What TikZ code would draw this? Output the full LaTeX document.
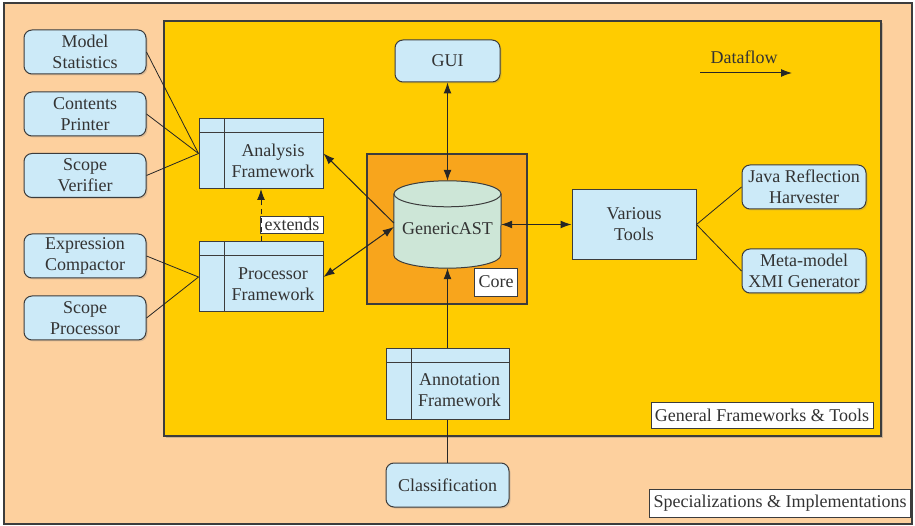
\documentclass[tikz,border=0pt]{standalone}
\usepackage{fontspec}
\setmainfont{Liberation Serif}
\usetikzlibrary{arrows.meta,shadows}

\definecolor{peach}{RGB}{253,208,158}
\definecolor{gold}{RGB}{255,204,0}
\definecolor{coreorange}{RGB}{248,165,28}
\definecolor{boxblue}{RGB}{204,234,248}
\definecolor{astgreen}{RGB}{205,230,215}
\definecolor{edge}{RGB}{60,60,60}

\tikzset{
  every node/.style={font=\fontsize{18}{21}\selectfont, text=black!80},
  tool/.style={draw=edge, fill=boxblue, rounded corners=8pt, line width=1pt,
    minimum width=122pt, minimum height=44pt, align=center, inner sep=1pt,
    drop shadow={shadow xshift=1.5pt, shadow yshift=-1.5pt, opacity=0.25}},
  plainbox/.style={draw=edge, fill=boxblue, line width=1pt,
    minimum width=124pt, minimum height=70pt, align=center},
  fwbox/.style={plainbox, path picture={
    \draw[edge, line width=1pt] ([yshift=-14pt]path picture bounding box.north west)
      -- ([yshift=-14pt]path picture bounding box.north east);
    \draw[edge, line width=1pt] ([xshift=25pt]path picture bounding box.north west)
      -- ([xshift=25pt]path picture bounding box.south west);}},
  fwlabel/.style={align=center, inner sep=0pt},
  tag/.style={draw=edge, fill=white, line width=0.8pt, inner xsep=4pt,
    inner ysep=1pt, minimum height=26pt},
  flow/.style={-{Latex[length=11pt,width=8pt]}, line width=1pt, draw=black!85},
  both/.style={{Latex[length=11pt,width=8pt]}-{Latex[length=11pt,width=8pt]},
    line width=1pt, draw=black!85},
  conn/.style={line width=0.8pt, draw=black!85},
}

\begin{document}
\begin{tikzpicture}[x=1pt, y=-1pt]
  \useasboundingbox (0,0) rectangle (915,526);
  % layers
  \draw[edge, line width=1.2pt, fill=peach] (4,3) rectangle (912,524);
  \draw[edge, line width=1.2pt, fill=gold,
    drop shadow={shadow xshift=2pt, shadow yshift=-2pt, opacity=0.4}] (164,21) rectangle (881,436);
  \draw[edge, line width=1.2pt, fill=coreorange] (367,154) rectangle (527,304);

  % core: cylinder drawn round an empty node
  \node[minimum width=107pt, minimum height=87pt, inner sep=0pt] (ast) at (447.5,224.5) {};
  \draw[edge, fill=astgreen, line width=1pt]
    ([yshift=-13pt]ast.north west) -- ([yshift=13pt]ast.south west)
    arc[start angle=180, end angle=360, x radius=53.5pt, y radius=13pt]
    -- ([yshift=-13pt]ast.north east);
  \draw[edge, fill=astgreen, line width=1pt]
    ([yshift=-13pt]ast.north) ellipse[x radius=53.5pt, y radius=13pt];
  \node (asttxt) at (447.5,229) {GenericAST};
  \node[tag, minimum height=28pt] (coretag) at (496,282) {Core};
  \node[tool, minimum width=105pt, minimum height=42pt] (gui) at (447.5,61) {GUI};

  % frameworks
  \node[fwbox] (af) at (261,153.5) {};
  \node[fwlabel] (aftxt) at ([xshift=12pt, yshift=-7pt]af.center) {Analysis\\Framework};
  \node[fwbox] (pf) at (261,277) {};
  \node[fwlabel] (pftxt) at ([xshift=12pt, yshift=-7pt]pf.center) {Processor\\Framework};
  \node[fwbox, minimum width=123pt, minimum height=71pt] (anf) at (447.5,383.5) {};
  \node[fwlabel] (anftxt) at ([xshift=12pt, yshift=-7pt]anf.center) {Annotation\\Framework};
  \node[plainbox, minimum height=70pt] (vt) at (634,224.5) {Various\\Tools};

  % specializations
  \node[tool] (ms) at (85,52) {Model\\Statistics};
  \node[tool] (cp) at (85,114) {Contents\\Printer};
  \node[tool] (sv) at (85,175.5) {Scope\\Verifier};
  \node[tool] (ec) at (85,256) {Expression\\Compactor};
  \node[tool] (sp) at (85,318) {Scope\\Processor};
  \node[tool, minimum width=123pt] (cl) at (447.5,485) {Classification};
  \node[tool, minimum width=124pt] (jr) at (804,187) {Java Reflection\\Harvester};
  \node[tool, minimum width=124pt] (mm) at (804,271) {Meta-model\\XMI Generator};

  % tags
  \node[tag, minimum height=17pt] (ext) at (292,224.5) {extends};
  \node[tag] (gft) at (762,415) {General Frameworks \& Tools};
  \node[tag, minimum height=28pt] (sit) at (780,503) {Specializations \& Implementations};

  % legend
  \node (dflow) at (744,57) {Dataflow};
  \coordinate (dfa) at (700,73);
  \coordinate (dfb) at (792,73);
  \draw[flow] (dfa) -- (dfb);

  % connectors
  \foreach \n in {ms,cp,sv} \draw[conn] (\n.east) -- (af.west);
  \foreach \n in {ec,sp} \draw[conn] (\n.east) -- (pf.west);
  \foreach \n in {jr,mm} \draw[conn] (vt.east) -- (\n.west);
  \draw[conn] (anf.south) -- (cl.north);
  \draw[flow, dashed, dash pattern=on 5pt off 4pt] (pf.north) -- (af.south);
  \draw[both] (gui.south) -- (ast.north);
  \draw[flow] ([yshift=1.5pt]ast.west) -- (af.east);
  \draw[both] (pf.east) -- ([yshift=-2.5pt]ast.west);
  \draw[both] (ast.east) -- (vt.west);
  \draw[flow] (anf.north) -- (ast.south);
\end{tikzpicture}
\end{document}
